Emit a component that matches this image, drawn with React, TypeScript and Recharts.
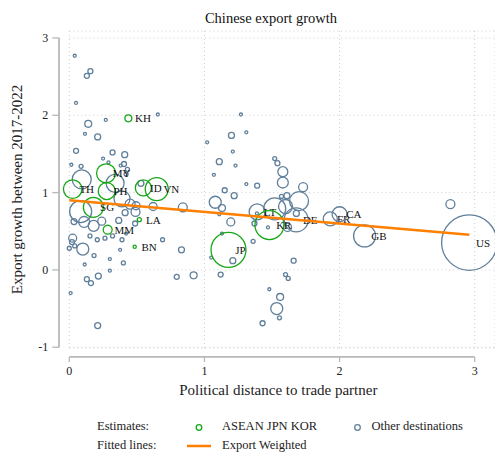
import { CartesianGrid, ReferenceLine, Scatter, ScatterChart, XAxis, YAxis, ZAxis } from "recharts";

// ASEAN + Japan + Korea (green markers, all labelled)
const aseanCodes = ["TH", "MY", "PH", "SG", "MM", "LA", "BN", "KH", "ID", "VN", "JP", "KR"];
const aseanDistance = [0.025, 0.272, 0.277, 0.178, 0.284, 0.518, 0.484, 0.437, 0.548, 0.647, 1.178, 1.481];
const aseanGrowth = [1.045, 1.25, 1.02, 0.81, 0.52, 0.65, 0.3, 1.96, 1.06, 1.045, 0.26, 0.58];
const aseanExports = [86, 90, 72, 100, 20, 4, 2.5, 12, 64, 132, 306, 210];

// labelled other destinations
const otherCodes = ["LT", "DE", "FR", "CA", "GB", "US"];
const otherDistance = [1.39, 1.679, 1.931, 2.0, 2.185, 2.96];
const otherGrowth = [0.75, 0.647, 0.66, 0.72, 0.44, 0.354];
const otherExports = [64, 144, 49, 56, 121, 770];

// unlabelled other destinations: [distance, growth, exports]
const otherRest: [number, number, number][] = [
  [0.04, 2.77, 2.25], [0.13, 2.51, 6.25], [0.156, 2.57, 6.25], [0.05, 2.16, 2.25], [0.655, 2.01, 2.25],
  [0.27, 1.94, 2.25], [0.14, 1.89, 12], [0.116, 1.76, 2.25], [0.21, 1.72, 9], [0.05, 1.54, 6.25],
  [0.087, 1.34, 4], [0.015, 1.36, 2.25], [0.25, 1.44, 2.25], [0.32, 1.52, 6.25], [0.41, 1.49, 9],
  [0.29, 1.39, 2.25], [0.405, 1.37, 6.25], [0.43, 1.3, 4], [0.38, 1.35, 2.25], [0.42, 1.24, 4],
  [0.092, 1.17, 90], [0.339, 1.12, 81], [0.084, 0.755, 121], [0.035, 0.625, 9], [0.11, 0.62, 30],
  [0.18, 0.57, 30], [0.24, 0.63, 16], [0.39, 0.92, 64], [0.45, 0.85, 25], [0.494, 0.83, 16],
  [0.49, 0.75, 20], [0.413, 0.74, 9], [0.487, 0.6, 6.25], [0.366, 0.64, 9], [0.62, 0.82, 16],
  [0.84, 0.81, 20], [0.025, 0.41, 16], [0.1, 0.27, 36], [0.153, 0.44, 4], [0.207, 0.39, 4],
  [0.264, 0.41, 4], [0.32, 0.44, 4], [0.39, 0.39, 4], [0.376, 0.26, 2.25], [0.42, 0.47, 2.25],
  [0.3, 0.14, 2.25], [0.4, 0.09, 4], [0.114, 0.07, 2.25], [0.183, 0.185, 4], [0.0, 0.28, 4],
  [0.69, 0.39, 4], [0.83, 0.26, 9], [0.3, -0.01, 2.25], [0.215, -0.08, 9], [0.13, -0.12, 6.25],
  [0.16, -0.17, 6.25], [0.795, -0.09, 6.25], [0.92, -0.07, 12], [0.01, -0.3, 2.25], [0.21, -0.72, 9],
  [0.02, 0.36, 6.25], [0.04, 0.31, 4], [0.53, 1.12, 9],
  [1.27, 2.01, 2.25], [1.31, 1.78, 2.25], [1.2, 1.74, 9], [1.02, 1.65, 2.25], [1.21, 1.53, 2.25],
  [1.11, 1.4, 9], [1.23, 1.35, 2.25], [1.07, 1.23, 2.25], [1.52, 1.44, 4], [1.54, 1.38, 6.25],
  [1.58, 1.27, 25], [1.58, 1.13, 30], [1.39, 1.09, 6.25], [1.31, 1.11, 2.25], [1.15, 1.03, 6.25],
  [1.22, 0.96, 9], [1.08, 0.875, 36], [1.13, 0.8, 12], [1.11, 0.72, 2.25], [1.195, 0.62, 16],
  [1.52, 0.79, 121], [1.37, 0.6, 6.25], [1.57, 0.95, 4], [1.61, 0.96, 9], [1.73, 1.07, 20],
  [1.7, 0.89, 90], [1.6, 0.82, 49], [1.68, 0.73, 9], [1.47, 0.55, 2.25], [1.615, 0.55, 16],
  [1.13, 0.47, 2.25], [1.05, 0.16, 2.25], [1.21, 0.12, 9], [1.36, 0.37, 4], [1.66, 0.12, 6.25],
  [1.12, -0.06, 6.25], [1.6, -0.06, 4], [1.62, -0.11, 4], [1.48, -0.25, 2.25], [1.56, -0.35, 12],
  [1.535, -0.5, 36], [1.555, -0.62, 4], [1.43, -0.69, 6.25], [2.82, 0.85, 20], [1.388, 0.73, 2.25],
];

// export weighted fit
const fitDistance = [0, 2.96];
const fitGrowth = [0.9, 0.455];

const xTicks = [0, 1, 2, 3];
const yTicks = [-1, 0, 1, 2, 3];

const SERIF = "'Liberation Serif', 'Times New Roman', serif";
const GREEN = "#16a816";
const BLUE = "#607f9b";
const ORANGE = "#ff7f00";
const AXIS = "#b8b8b8";
const MAX_EXPORTS = 800;

const aseanData = aseanCodes.map((code, i) => ({
  code,
  distance: aseanDistance[i],
  growth: aseanGrowth[i],
  exports: aseanExports[i],
}));

const otherData = [
  ...otherRest.map(([distance, growth, exports]) => ({ code: "", distance, growth, exports })),
  ...otherCodes.map((code, i) => ({
    code,
    distance: otherDistance[i],
    growth: otherGrowth[i],
    exports: otherExports[i],
  })),
];

const fitData = fitDistance.map((distance, i) => ({ distance, growth: fitGrowth[i] }));

function bubble(color: string) {
  return (props: any) => {
    const { cx, cy, payload } = props;
    const r = props.width ? props.width / 2 : Math.sqrt((props.size || 4) / Math.PI);
    return (
      <g>
        <circle cx={cx} cy={cy} r={Math.max(r, 0.9)} fill="none" stroke={color} strokeWidth={1.3} />
        {payload.code ? (
          <text x={cx + 6.7} y={cy + 4} fontSize={11} fontFamily={SERIF} fill="#111">
            {payload.code}
          </text>
        ) : null}
      </g>
    );
  };
}

const XTick = (props: any) => {
  const { x, y, payload } = props;
  return (
    <g>
      <line x1={x} x2={x} y1={y + 9} y2={y + 14} stroke={AXIS} strokeWidth={1.3} />
      <text x={x} y={y + 27} textAnchor="middle" fontSize={12} fontFamily={SERIF} fill="#222">
        {payload.value}
      </text>
    </g>
  );
};

const YTick = (props: any) => {
  const { x, y, payload } = props;
  return (
    <g>
      <line x1={x - 17} x2={x - 10} y1={y} y2={y} stroke={AXIS} strokeWidth={1.3} />
      <text x={x - 21} y={y + 4} textAnchor="end" fontSize={12} fontFamily={SERIF} fill="#222">
        {payload.value}
      </text>
    </g>
  );
};

export default function App() {
  return (
    <div style={{ position: "absolute", left: 0, top: 0, width: 495, height: 454, background: "#fff" }}>
      <ScatterChart width={495} height={454} margin={{ top: 31, right: 0, bottom: 0, left: 0 }}>
        <CartesianGrid stroke="#cfcfcf" strokeDasharray="1 3" />
        <XAxis
          type="number"
          dataKey="distance"
          domain={[0, 3.15]}
          ticks={xTicks}
          axisLine={false}
          tickLine={false}
          tickSize={0}
          tickMargin={0}
          height={106}
          tick={XTick}
          label={(p: any) => (
            <text
              x={p.viewBox.x + 209}
              y={p.viewBox.y + 47}
              textAnchor="middle"
              fontSize={15}
              fontFamily={SERIF}
              fill="#222"
            >
              Political distance to trade partner
            </text>
          )}
        />
        <YAxis
          type="number"
          dataKey="growth"
          domain={[-1.01, 3.09]}
          ticks={yTicks}
          axisLine={false}
          tickLine={false}
          tickSize={0}
          tickMargin={0}
          width={69.3}
          tick={YTick}
          label={(p: any) => {
            const cy = p.viewBox.y + p.viewBox.height / 2;
            return (
              <text
                x={22}
                y={cy}
                transform={`rotate(-90 22 ${cy})`}
                textAnchor="middle"
                fontSize={15}
                fontFamily={SERIF}
                fill="#222"
              >
                Export growth between 2017-2022
              </text>
            );
          }}
        />
        <ZAxis type="number" dataKey="exports" domain={[0, MAX_EXPORTS]} range={[0, MAX_EXPORTS * Math.PI]} />
        <ReferenceLine
          segment={[{ x: -0.076, y: -1 }, { x: -0.076, y: 3 }]}
          stroke={AXIS}
          strokeWidth={1.8}
          ifOverflow="visible"
        />
        <ReferenceLine
          segment={[{ x: 0, y: -1.125 }, { x: 3, y: -1.125 }]}
          stroke={AXIS}
          strokeWidth={1.8}
          ifOverflow="visible"
        />
        <Scatter data={otherData} shape={bubble(BLUE)} isAnimationActive={false} />
        <Scatter data={aseanData} shape={bubble(GREEN)} isAnimationActive={false} />
        <Scatter
          data={fitData}
          line={{ stroke: ORANGE, strokeWidth: 2.5 }}
          shape={() => <g />}
          isAnimationActive={false}
        />
      </ScatterChart>
      <svg
        width={495}
        height={454}
        style={{ position: "absolute", left: 0, top: 0, pointerEvents: "none" }}
        fontFamily={SERIF}
      >
        <text x={271} y={23} textAnchor="middle" fontSize={14.5} fill="#111">
          Chinese export growth
        </text>
        <text x={97} y={430} fontSize={12.5} fill="#222">Estimates:</text>
        <circle cx={199} cy={427.5} r={2.8} fill="none" stroke={GREEN} strokeWidth={1.3} />
        <text x={222} y={430} fontSize={12.5} fill="#222">ASEAN JPN KOR</text>
        <circle cx={357.5} cy={427.5} r={2.8} fill="none" stroke={BLUE} strokeWidth={1.3} />
        <text x={371.5} y={430} fontSize={12.5} fill="#222">Other destinations</text>
        <text x={97} y={449} fontSize={12.5} fill="#222">Fitted lines:</text>
        <line x1={187} x2={211} y1={446} y2={446} stroke={ORANGE} strokeWidth={2.5} />
        <text x={222} y={449} fontSize={12.5} fill="#222">Export Weighted</text>
      </svg>
    </div>
  );
}
